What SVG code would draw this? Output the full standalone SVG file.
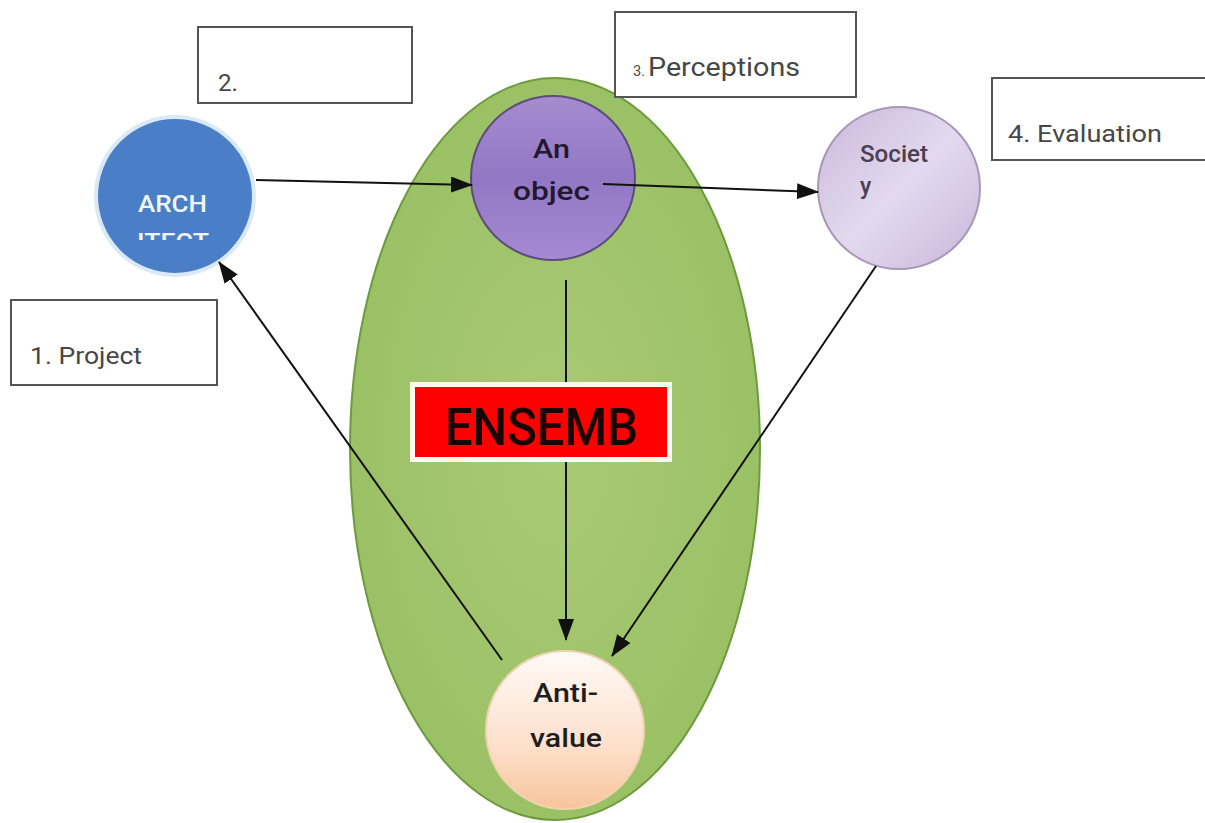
<svg xmlns="http://www.w3.org/2000/svg" width="1205" height="823" viewBox="0 0 1205 823">
<style>
.box{fill:#fff;stroke:#555;stroke-width:2}
.lbl{font-family:Roboto,"Liberation Sans",sans-serif;fill:#474747}
.conn{stroke:#111;stroke-width:2;fill:none;marker-end:url(#ah)}
.ct{font-family:Roboto,"Liberation Sans",sans-serif;font-weight:500}
</style>
<defs>
<marker id="ah" viewBox="0 0 22 16" refX="21" refY="8" markerWidth="22" markerHeight="16" markerUnits="userSpaceOnUse" orient="auto">
<path d="M0,0 L22,8 L0,16 z" fill="#111"/>
</marker>
<radialGradient id="gEll" cx="0.5" cy="0.5" r="0.6">
<stop offset="0" stop-color="#a9ca76"/>
<stop offset="1" stop-color="#98bf62"/>
</radialGradient>
<linearGradient id="gObj" x1="0" y1="0" x2="0" y2="1">
<stop offset="0" stop-color="#a58cd0"/>
<stop offset="0.5" stop-color="#9277c4"/>
<stop offset="1" stop-color="#a48ad2"/>
</linearGradient>
<linearGradient id="gSoc" x1="0" y1="0" x2="1" y2="1">
<stop offset="0" stop-color="#c9b8dc"/>
<stop offset="0.5" stop-color="#e4d9ee"/>
<stop offset="1" stop-color="#c8b6dc"/>
</linearGradient>
<linearGradient id="gAnti" x1="0" y1="0" x2="0" y2="1">
<stop offset="0" stop-color="#fffaf6"/>
<stop offset="0.6" stop-color="#fde0cc"/>
<stop offset="1" stop-color="#f7c49a"/>
</linearGradient>
<clipPath id="archClip"><rect x="90" y="110" width="180" height="130"/></clipPath>
</defs>
<rect width="1205" height="823" fill="#fff"/>

<g id="ensemble-area">
<ellipse cx="555" cy="449" rx="205" ry="371" fill="url(#gEll)" stroke="#6e9a3e" stroke-width="2"/>
</g>

<g id="box-2">
<rect class="box" x="198" y="27" width="214" height="76"/>
<text class="lbl" x="218" y="91" font-size="24" textLength="20" lengthAdjust="spacingAndGlyphs">2.</text>
</g>
<g id="box-3">
<rect class="box" x="615" y="12" width="241" height="85"/>
<text class="lbl" x="633" y="76" font-size="15" textLength="12" lengthAdjust="spacingAndGlyphs">3.</text>
<text class="lbl" x="648" y="76" font-size="25" textLength="152" lengthAdjust="spacingAndGlyphs">Perceptions</text>
</g>
<g id="box-4">
<rect class="box" x="992" y="78" width="220" height="82"/>
<text class="lbl" x="1008" y="142" font-size="24" textLength="154" lengthAdjust="spacingAndGlyphs">4. Evaluation</text>
</g>
<g id="box-1">
<rect class="box" x="11" y="300" width="206" height="85"/>
<text class="lbl" x="30" y="364" font-size="24" textLength="112" lengthAdjust="spacingAndGlyphs">1. Project</text>
</g>

<g id="architect">
<circle cx="175" cy="196" r="79" fill="#4a7fc8" stroke="#dbe8f6" stroke-width="4"/>
<g clip-path="url(#archClip)">
<text class="ct" x="138" y="212" font-size="24" fill="#f2f6fb" textLength="69" lengthAdjust="spacingAndGlyphs">ARCH</text>
<text class="ct" x="137" y="250" font-size="24" fill="#f2f6fb" textLength="72" lengthAdjust="spacingAndGlyphs">ITECT</text>
</g>
</g>

<g id="object">
<circle cx="553" cy="178" r="82" fill="url(#gObj)" stroke="#5e4c7c" stroke-width="2"/>
<text class="ct" x="533" y="158" font-size="25" fill="#24182e" textLength="37" lengthAdjust="spacingAndGlyphs">An</text>
<text class="ct" x="513" y="200" font-size="25" fill="#24182e" textLength="77" lengthAdjust="spacingAndGlyphs">objec</text>
</g>

<g id="society">
<circle cx="899" cy="188" r="81" fill="url(#gSoc)" stroke="#a897b8" stroke-width="2"/>
<text class="ct" x="860" y="162" font-size="23" fill="#4a4052" textLength="68" lengthAdjust="spacingAndGlyphs">Societ</text>
<text class="ct" x="860" y="194" font-size="23" fill="#4a4052">y</text>
</g>

<g id="anti-value">
<circle cx="565" cy="730" r="79" fill="url(#gAnti)" stroke="#f0d2b0" stroke-width="2"/>
<text class="ct" x="533" y="702" font-size="26" fill="#1e1e1e" textLength="65" lengthAdjust="spacingAndGlyphs">Anti-</text>
<text class="ct" x="530" y="747" font-size="26" fill="#1e1e1e" textLength="72" lengthAdjust="spacingAndGlyphs">value</text>
</g>

<g id="connectors">
<line class="conn" x1="256" y1="180" x2="472" y2="185"/>
<line class="conn" x1="603" y1="184" x2="818" y2="192"/>
<line class="conn" x1="566" y1="280" x2="566" y2="640"/>
<line class="conn" x1="876" y1="266" x2="612" y2="656"/>
<line class="conn" x1="502" y1="660" x2="219" y2="262"/>
</g>

<g id="ensemb">
<rect x="410" y="382" width="262" height="80" fill="#fff8ee"/>
<rect x="415" y="387" width="252" height="70" fill="#ff0000"/>
<text class="ct" x="445" y="445" font-size="52" fill="#1a0505" textLength="193" lengthAdjust="spacingAndGlyphs">ENSEMB</text>
</g>
</svg>
